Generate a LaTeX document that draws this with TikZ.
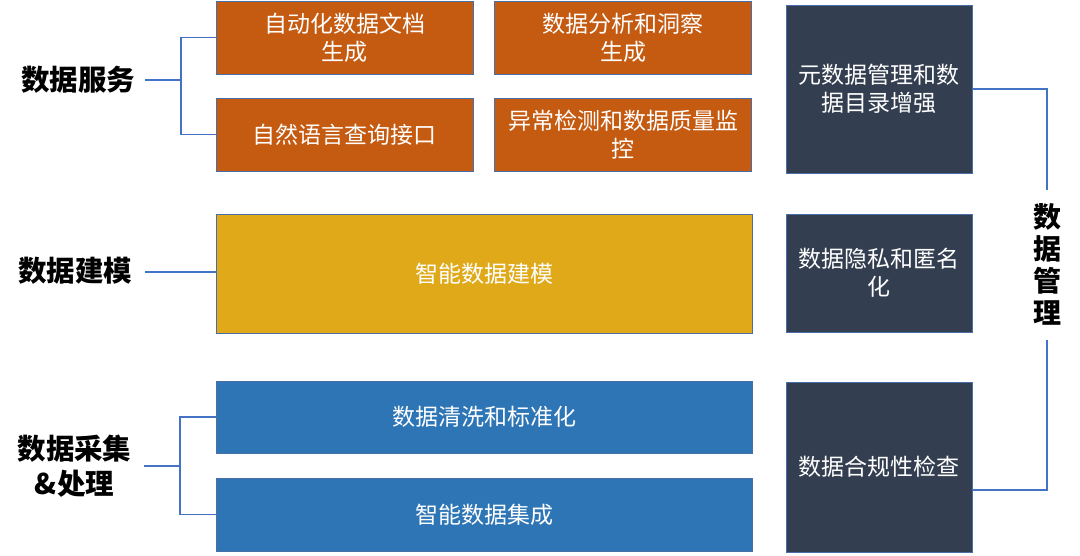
\documentclass[tikz,border=0pt]{standalone}
\usepackage{fontspec}
\setmainfont{Noto Sans CJK SC}
\definecolor{cOrange}{HTML}{C55A11}
\definecolor{cYellow}{HTML}{DFA919}
\definecolor{cBlue}{HTML}{2E75B6}
\definecolor{cDark}{HTML}{333F50}
\definecolor{cEdge}{HTML}{4A6FA8}
\definecolor{cLine}{HTML}{4472C4}
\begin{document}
\begin{tikzpicture}[x=1pt,y=-1pt,
  box/.style={draw=cEdge, line width=0.9pt, text=white, align=center, inner sep=0pt,
    font=\fontsize{23}{28}\selectfont},
  obox/.style={box, fill=cOrange, minimum width=257pt, minimum height=73pt},
  wbox/.style={box, minimum width=536pt},
  dbox/.style={box, fill=cDark, minimum width=186pt},
  lbl/.style={align=center, text=black, font=\fontsize{28.5}{35}\selectfont\bfseries},
  conn/.style={draw=cLine, line width=1.2pt}]
\fill[white] (0,0) rectangle (1080,556);
\useasboundingbox (0,0) rectangle (1080,556);
% orange boxes
\node[obox] (o1) at (344.5,37.5) {自动化数据文档\\生成};
\node[obox] (o2) at (623,37.5) {数据分析和洞察\\生成};
\node[obox] (o3) at (344.5,134.5) {自然语言查询接口};
\node[obox] (o4) at (623,134.5) {异常检测和数据质量监\\控};
% yellow
\node[wbox, fill=cYellow, minimum height=119pt] (y1) at (484,273.5) {智能数据建模};
% blue
\node[wbox, fill=cBlue, minimum height=72pt] (b1) at (484,417) {数据清洗和标准化};
\node[wbox, fill=cBlue, minimum height=73pt] (b2) at (484,514.5) {智能数据集成};
% dark
\node[dbox, minimum height=168pt] (d1) at (879,89) {元数据管理和数\\据目录增强};
\node[dbox, minimum height=118pt] (d2) at (879,273) {数据隐私和匿名\\化};
\node[dbox, minimum height=170pt] (d3) at (879,467) {数据合规性检查};
% left labels
\node[lbl] (l1) at (78,80) {数据服务};
\node[lbl] (l2) at (75.5,271) {数据建模};
\node[lbl] (l3) at (74.5,466) {数据采集\\\&处理};
\node[lbl, font=\fontsize{28}{32}\selectfont\bfseries] (l4) at (1047,264) {数\\据\\管\\理};
% connectors
\coordinate (s0) at (145,80);
\coordinate (sj) at (181,80);
\draw[conn] (s0) -- (sj);
\draw[conn] (sj) |- (o1.west);
\draw[conn] (sj) |- (o3.west);
\coordinate (m0) at (145,272);
\draw[conn] (m0) -- (m0 -| y1.west);
\coordinate (c0) at (144,466);
\coordinate (cj) at (180,466);
\draw[conn] (c0) -- (cj);
\draw[conn] (cj) |- (b1.west);
\draw[conn] (cj) |- (b2.west);
\coordinate (r1) at (1047,190);
\coordinate (r2) at (1047,340);
\coordinate (r3) at (1047,490);
\draw[conn] (d1.east) -| (r1);
\draw[conn] (r2) -- (r3) -- (r3 -| d3.east);
\end{tikzpicture}
\end{document}
